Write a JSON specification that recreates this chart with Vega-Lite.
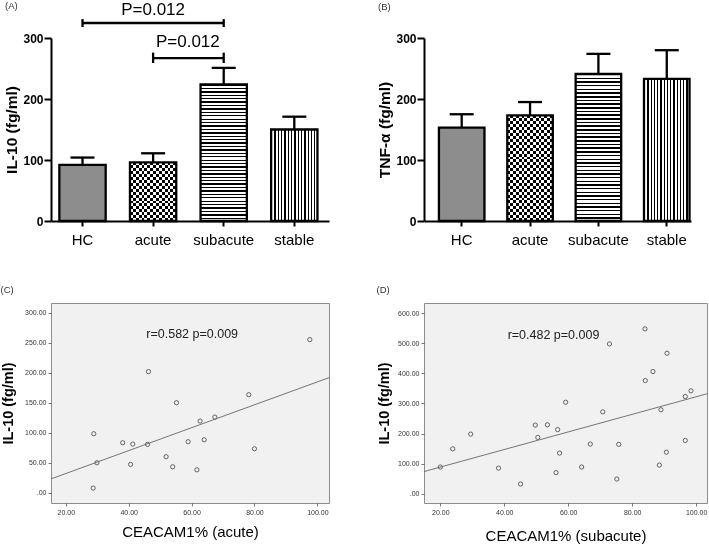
{
"$schema": "https://vega.github.io/schema/vega-lite/v6.json",
"background": "white",
"padding": {"left": 0, "top": 0, "right": 0, "bottom": 0},
"columns": 2,
"bounds": "flush",
"spacing": {"row": 82, "column": 95},
"config": {"font": "Liberation Sans"},
"datasets": {
 "il10": [
  {"g": "HC", "v": 92, "e": 104},
  {"g": "acute", "v": 96, "e": 111},
  {"g": "subacute", "v": 224, "e": 251},
  {"g": "stable", "v": 150, "e": 171}
 ],
 "tnf": [
  {"g": "HC", "v": 153, "e": 175},
  {"g": "acute", "v": 173, "e": 195},
  {"g": "subacute", "v": 241, "e": 274},
  {"g": "stable", "v": 233, "e": 280}
 ],
 "br": [
  {"id": 1, "f": "HC", "t": "subacute", "y": 324.6, "lo": 318, "hi": 331, "lab": "P=0.012", "at": "acute", "ly": 346},
  {"id": 2, "f": "acute", "t": "subacute", "y": 267, "lo": 259, "hi": 276, "lab": "P=0.012", "at": "acute", "ly": 293}
 ],
 "c": [
  {"x": 97.6, "y": 255}, {"x": 46.3, "y": 201.7}, {"x": 55.2, "y": 150}, {"x": 78.2, "y": 163.3},
  {"x": 67.4, "y": 126}, {"x": 62.7, "y": 119.4}, {"x": 28.9, "y": 98.3}, {"x": 38.1, "y": 83.3},
  {"x": 41.3, "y": 81.1}, {"x": 46.0, "y": 80.6}, {"x": 58.9, "y": 85}, {"x": 64.0, "y": 88.3},
  {"x": 80.0, "y": 73.3}, {"x": 51.9, "y": 60}, {"x": 29.9, "y": 50}, {"x": 40.6, "y": 47.2},
  {"x": 54.0, "y": 43.3}, {"x": 61.7, "y": 38.3}, {"x": 28.7, "y": 7.8}
 ],
 "d": [
  {"x": 84.0, "y": 548}, {"x": 72.9, "y": 498}, {"x": 90.9, "y": 467}, {"x": 86.5, "y": 406},
  {"x": 84.1, "y": 376}, {"x": 98.4, "y": 342}, {"x": 96.6, "y": 323}, {"x": 89.0, "y": 279},
  {"x": 59.2, "y": 304}, {"x": 70.8, "y": 272}, {"x": 49.7, "y": 228}, {"x": 53.5, "y": 229},
  {"x": 56.7, "y": 213}, {"x": 50.5, "y": 187}, {"x": 29.5, "y": 198}, {"x": 23.9, "y": 149},
  {"x": 20.0, "y": 88.6}, {"x": 38.2, "y": 85}, {"x": 45.1, "y": 32}, {"x": 56.2, "y": 70},
  {"x": 57.3, "y": 135}, {"x": 64.2, "y": 88.6}, {"x": 66.9, "y": 165}, {"x": 75.8, "y": 164},
  {"x": 75.2, "y": 48.7}, {"x": 88.5, "y": 95}, {"x": 90.7, "y": 138}, {"x": 96.6, "y": 177}
 ],
 "notes": [
  {"panel": "C", "lab": "r=0.582 p=0.009", "x": 60.2, "y": 264.5},
  {"panel": "D", "lab": "r=0.482 p=0.009", "x": 55.4, "y": 529}
 ]
},
"concat": [
 {
  "width": 278, "height": 183,
  "view": {"stroke": null},
  "title": {"text": "(A)", "anchor": "start", "frame": "bounds", "fontSize": 9.5, "fontWeight": "normal", "color": "#333", "offset": 0, "dy": 10},
  "data": {"name": "il10"},
  "layer": [
   {"transform": [{"filter": "datum.g == 'HC'"}],
    "mark": {"type": "bar", "fill": "#8d8d8d", "strokeWidth": 0},
    "encoding": {
     "x": {"field": "g", "type": "nominal", "title": null,
       "scale": {"domain": ["HC", "acute", "subacute", "stable"], "paddingInner": 0.344, "paddingOuter": 0.141, "align": 0.42},
       "axis": {"labelAngle": 0, "labelFontSize": 15, "labelColor": "#000", "labelPadding": 6, "tickSize": 5, "tickWidth": 2, "tickColor": "#000", "domainWidth": 2, "domainColor": "#000"}},
     "y": {"field": "v", "type": "quantitative", "title": "IL-10 (fg/ml)",
       "scale": {"domain": [0, 300], "nice": false},
       "axis": {"values": [0, 100, 200, 300], "grid": false, "domainWidth": 2, "domainColor": "#000", "tickWidth": 2, "tickColor": "#000", "tickSize": 7, "labelFontWeight": "bold", "labelFontSize": 12, "labelColor": "#000", "labelPadding": 1, "titleFontSize": 15.5, "titleFontWeight": "bold", "titleColor": "#000", "titlePadding": 3}}
    }},
   {"transform": [{"filter": "datum.g == 'acute'"}],
    "mark": {"type": "bar", "strokeWidth": 0, "fill": {"gradient": "linear", "x1": 0, "y1": 0, "x2": 1, "y2": 0, "stops": [
   {"offset": 0, "color": "#000"}, {"offset": 0.0625, "color": "#000"}, {"offset": 0.0625, "color": "#fff"}, {"offset": 0.125, "color": "#fff"},
   {"offset": 0.125, "color": "#000"}, {"offset": 0.1875, "color": "#000"}, {"offset": 0.1875, "color": "#fff"}, {"offset": 0.25, "color": "#fff"},
   {"offset": 0.25, "color": "#000"}, {"offset": 0.3125, "color": "#000"}, {"offset": 0.3125, "color": "#fff"}, {"offset": 0.375, "color": "#fff"},
   {"offset": 0.375, "color": "#000"}, {"offset": 0.4375, "color": "#000"}, {"offset": 0.4375, "color": "#fff"}, {"offset": 0.5, "color": "#fff"},
   {"offset": 0.5, "color": "#000"}, {"offset": 0.5625, "color": "#000"}, {"offset": 0.5625, "color": "#fff"}, {"offset": 0.625, "color": "#fff"},
   {"offset": 0.625, "color": "#000"}, {"offset": 0.6875, "color": "#000"}, {"offset": 0.6875, "color": "#fff"}, {"offset": 0.75, "color": "#fff"},
   {"offset": 0.75, "color": "#000"}, {"offset": 0.8125, "color": "#000"}, {"offset": 0.8125, "color": "#fff"}, {"offset": 0.875, "color": "#fff"},
   {"offset": 0.875, "color": "#000"}, {"offset": 0.9375, "color": "#000"}, {"offset": 0.9375, "color": "#fff"}, {"offset": 1, "color": "#fff"}]}},
    "encoding": {"x": {"field": "g", "type": "nominal", "title": null}, "y": {"field": "v", "type": "quantitative", "title": "IL-10 (fg/ml)"}}},
   {"transform": [{"filter": "datum.g == 'acute'"}],
    "mark": {"type": "bar", "blend": "difference", "strokeWidth": 0, "fill": {"gradient": "linear", "x1": 0, "y1": 0, "x2": 0, "y2": 1, "stops": [
   {"offset": 0, "color": "#fff"}, {"offset": 0.05, "color": "#fff"}, {"offset": 0.05, "color": "#000"}, {"offset": 0.1, "color": "#000"},
   {"offset": 0.1, "color": "#fff"}, {"offset": 0.15, "color": "#fff"}, {"offset": 0.15, "color": "#000"}, {"offset": 0.2, "color": "#000"},
   {"offset": 0.2, "color": "#fff"}, {"offset": 0.25, "color": "#fff"}, {"offset": 0.25, "color": "#000"}, {"offset": 0.3, "color": "#000"},
   {"offset": 0.3, "color": "#fff"}, {"offset": 0.35, "color": "#fff"}, {"offset": 0.35, "color": "#000"}, {"offset": 0.4, "color": "#000"},
   {"offset": 0.4, "color": "#fff"}, {"offset": 0.45, "color": "#fff"}, {"offset": 0.45, "color": "#000"}, {"offset": 0.5, "color": "#000"},
   {"offset": 0.5, "color": "#fff"}, {"offset": 0.55, "color": "#fff"}, {"offset": 0.55, "color": "#000"}, {"offset": 0.6, "color": "#000"},
   {"offset": 0.6, "color": "#fff"}, {"offset": 0.65, "color": "#fff"}, {"offset": 0.65, "color": "#000"}, {"offset": 0.7, "color": "#000"},
   {"offset": 0.7, "color": "#fff"}, {"offset": 0.75, "color": "#fff"}, {"offset": 0.75, "color": "#000"}, {"offset": 0.8, "color": "#000"},
   {"offset": 0.8, "color": "#fff"}, {"offset": 0.85, "color": "#fff"}, {"offset": 0.85, "color": "#000"}, {"offset": 0.9, "color": "#000"},
   {"offset": 0.9, "color": "#fff"}, {"offset": 0.95, "color": "#fff"}, {"offset": 0.95, "color": "#000"}, {"offset": 1, "color": "#000"}]}},
    "encoding": {"x": {"field": "g", "type": "nominal", "title": null}, "y": {"field": "v", "type": "quantitative", "title": "IL-10 (fg/ml)"}}},
   {"transform": [{"filter": "datum.g == 'subacute'"}],
    "mark": {"type": "bar", "strokeWidth": 0, "fill": {"gradient": "linear", "x1": 0, "y1": 0, "x2": 0, "y2": 1, "stops": [
   {"offset": 0, "color": "#000"}, {"offset": 0.01, "color": "#000"}, {"offset": 0.01, "color": "#fff"}, {"offset": 0.025, "color": "#fff"},
   {"offset": 0.025, "color": "#000"}, {"offset": 0.035, "color": "#000"}, {"offset": 0.035, "color": "#fff"}, {"offset": 0.05, "color": "#fff"},
   {"offset": 0.05, "color": "#000"}, {"offset": 0.06, "color": "#000"}, {"offset": 0.06, "color": "#fff"}, {"offset": 0.075, "color": "#fff"},
   {"offset": 0.075, "color": "#000"}, {"offset": 0.085, "color": "#000"}, {"offset": 0.085, "color": "#fff"}, {"offset": 0.1, "color": "#fff"},
   {"offset": 0.1, "color": "#000"}, {"offset": 0.11, "color": "#000"}, {"offset": 0.11, "color": "#fff"}, {"offset": 0.125, "color": "#fff"},
   {"offset": 0.125, "color": "#000"}, {"offset": 0.135, "color": "#000"}, {"offset": 0.135, "color": "#fff"}, {"offset": 0.15, "color": "#fff"},
   {"offset": 0.15, "color": "#000"}, {"offset": 0.16, "color": "#000"}, {"offset": 0.16, "color": "#fff"}, {"offset": 0.175, "color": "#fff"},
   {"offset": 0.175, "color": "#000"}, {"offset": 0.185, "color": "#000"}, {"offset": 0.185, "color": "#fff"}, {"offset": 0.2, "color": "#fff"},
   {"offset": 0.2, "color": "#000"}, {"offset": 0.21, "color": "#000"}, {"offset": 0.21, "color": "#fff"}, {"offset": 0.225, "color": "#fff"},
   {"offset": 0.225, "color": "#000"}, {"offset": 0.235, "color": "#000"}, {"offset": 0.235, "color": "#fff"}, {"offset": 0.25, "color": "#fff"},
   {"offset": 0.25, "color": "#000"}, {"offset": 0.26, "color": "#000"}, {"offset": 0.26, "color": "#fff"}, {"offset": 0.275, "color": "#fff"},
   {"offset": 0.275, "color": "#000"}, {"offset": 0.285, "color": "#000"}, {"offset": 0.285, "color": "#fff"}, {"offset": 0.3, "color": "#fff"},
   {"offset": 0.3, "color": "#000"}, {"offset": 0.31, "color": "#000"}, {"offset": 0.31, "color": "#fff"}, {"offset": 0.325, "color": "#fff"},
   {"offset": 0.325, "color": "#000"}, {"offset": 0.335, "color": "#000"}, {"offset": 0.335, "color": "#fff"}, {"offset": 0.35, "color": "#fff"},
   {"offset": 0.35, "color": "#000"}, {"offset": 0.36, "color": "#000"}, {"offset": 0.36, "color": "#fff"}, {"offset": 0.375, "color": "#fff"},
   {"offset": 0.375, "color": "#000"}, {"offset": 0.385, "color": "#000"}, {"offset": 0.385, "color": "#fff"}, {"offset": 0.4, "color": "#fff"},
   {"offset": 0.4, "color": "#000"}, {"offset": 0.41, "color": "#000"}, {"offset": 0.41, "color": "#fff"}, {"offset": 0.425, "color": "#fff"},
   {"offset": 0.425, "color": "#000"}, {"offset": 0.435, "color": "#000"}, {"offset": 0.435, "color": "#fff"}, {"offset": 0.45, "color": "#fff"},
   {"offset": 0.45, "color": "#000"}, {"offset": 0.46, "color": "#000"}, {"offset": 0.46, "color": "#fff"}, {"offset": 0.475, "color": "#fff"},
   {"offset": 0.475, "color": "#000"}, {"offset": 0.485, "color": "#000"}, {"offset": 0.485, "color": "#fff"}, {"offset": 0.5, "color": "#fff"},
   {"offset": 0.5, "color": "#000"}, {"offset": 0.51, "color": "#000"}, {"offset": 0.51, "color": "#fff"}, {"offset": 0.525, "color": "#fff"},
   {"offset": 0.525, "color": "#000"}, {"offset": 0.535, "color": "#000"}, {"offset": 0.535, "color": "#fff"}, {"offset": 0.55, "color": "#fff"},
   {"offset": 0.55, "color": "#000"}, {"offset": 0.56, "color": "#000"}, {"offset": 0.56, "color": "#fff"}, {"offset": 0.575, "color": "#fff"},
   {"offset": 0.575, "color": "#000"}, {"offset": 0.585, "color": "#000"}, {"offset": 0.585, "color": "#fff"}, {"offset": 0.6, "color": "#fff"},
   {"offset": 0.6, "color": "#000"}, {"offset": 0.61, "color": "#000"}, {"offset": 0.61, "color": "#fff"}, {"offset": 0.625, "color": "#fff"},
   {"offset": 0.625, "color": "#000"}, {"offset": 0.635, "color": "#000"}, {"offset": 0.635, "color": "#fff"}, {"offset": 0.65, "color": "#fff"},
   {"offset": 0.65, "color": "#000"}, {"offset": 0.66, "color": "#000"}, {"offset": 0.66, "color": "#fff"}, {"offset": 0.675, "color": "#fff"},
   {"offset": 0.675, "color": "#000"}, {"offset": 0.685, "color": "#000"}, {"offset": 0.685, "color": "#fff"}, {"offset": 0.7, "color": "#fff"},
   {"offset": 0.7, "color": "#000"}, {"offset": 0.71, "color": "#000"}, {"offset": 0.71, "color": "#fff"}, {"offset": 0.725, "color": "#fff"},
   {"offset": 0.725, "color": "#000"}, {"offset": 0.735, "color": "#000"}, {"offset": 0.735, "color": "#fff"}, {"offset": 0.75, "color": "#fff"},
   {"offset": 0.75, "color": "#000"}, {"offset": 0.76, "color": "#000"}, {"offset": 0.76, "color": "#fff"}, {"offset": 0.775, "color": "#fff"},
   {"offset": 0.775, "color": "#000"}, {"offset": 0.785, "color": "#000"}, {"offset": 0.785, "color": "#fff"}, {"offset": 0.8, "color": "#fff"},
   {"offset": 0.8, "color": "#000"}, {"offset": 0.81, "color": "#000"}, {"offset": 0.81, "color": "#fff"}, {"offset": 0.825, "color": "#fff"},
   {"offset": 0.825, "color": "#000"}, {"offset": 0.835, "color": "#000"}, {"offset": 0.835, "color": "#fff"}, {"offset": 0.85, "color": "#fff"},
   {"offset": 0.85, "color": "#000"}, {"offset": 0.86, "color": "#000"}, {"offset": 0.86, "color": "#fff"}, {"offset": 0.875, "color": "#fff"},
   {"offset": 0.875, "color": "#000"}, {"offset": 0.885, "color": "#000"}, {"offset": 0.885, "color": "#fff"}, {"offset": 0.9, "color": "#fff"},
   {"offset": 0.9, "color": "#000"}, {"offset": 0.91, "color": "#000"}, {"offset": 0.91, "color": "#fff"}, {"offset": 0.925, "color": "#fff"},
   {"offset": 0.925, "color": "#000"}, {"offset": 0.935, "color": "#000"}, {"offset": 0.935, "color": "#fff"}, {"offset": 0.95, "color": "#fff"},
   {"offset": 0.95, "color": "#000"}, {"offset": 0.96, "color": "#000"}, {"offset": 0.96, "color": "#fff"}, {"offset": 0.975, "color": "#fff"},
   {"offset": 0.975, "color": "#000"}, {"offset": 0.985, "color": "#000"}, {"offset": 0.985, "color": "#fff"}, {"offset": 1, "color": "#fff"}]}},
    "encoding": {"x": {"field": "g", "type": "nominal", "title": null}, "y": {"field": "v", "type": "quantitative", "title": "IL-10 (fg/ml)"}}},
   {"transform": [{"filter": "datum.g == 'stable'"}],
    "mark": {"type": "bar", "strokeWidth": 0, "fill": {"gradient": "linear", "x1": 0, "y1": 0, "x2": 1, "y2": 0, "stops": [
   {"offset": 0, "color": "#000"}, {"offset": 0.028571, "color": "#000"}, {"offset": 0.028571, "color": "#fff"}, {"offset": 0.071429, "color": "#fff"},
   {"offset": 0.071429, "color": "#000"}, {"offset": 0.1, "color": "#000"}, {"offset": 0.1, "color": "#fff"}, {"offset": 0.142857, "color": "#fff"},
   {"offset": 0.142857, "color": "#000"}, {"offset": 0.171429, "color": "#000"}, {"offset": 0.171429, "color": "#fff"}, {"offset": 0.214286, "color": "#fff"},
   {"offset": 0.214286, "color": "#000"}, {"offset": 0.242857, "color": "#000"}, {"offset": 0.242857, "color": "#fff"}, {"offset": 0.285714, "color": "#fff"},
   {"offset": 0.285714, "color": "#000"}, {"offset": 0.314286, "color": "#000"}, {"offset": 0.314286, "color": "#fff"}, {"offset": 0.357143, "color": "#fff"},
   {"offset": 0.357143, "color": "#000"}, {"offset": 0.385714, "color": "#000"}, {"offset": 0.385714, "color": "#fff"}, {"offset": 0.428571, "color": "#fff"},
   {"offset": 0.428571, "color": "#000"}, {"offset": 0.457143, "color": "#000"}, {"offset": 0.457143, "color": "#fff"}, {"offset": 0.5, "color": "#fff"},
   {"offset": 0.5, "color": "#000"}, {"offset": 0.528571, "color": "#000"}, {"offset": 0.528571, "color": "#fff"}, {"offset": 0.571429, "color": "#fff"},
   {"offset": 0.571429, "color": "#000"}, {"offset": 0.6, "color": "#000"}, {"offset": 0.6, "color": "#fff"}, {"offset": 0.642857, "color": "#fff"},
   {"offset": 0.642857, "color": "#000"}, {"offset": 0.671429, "color": "#000"}, {"offset": 0.671429, "color": "#fff"}, {"offset": 0.714286, "color": "#fff"},
   {"offset": 0.714286, "color": "#000"}, {"offset": 0.742857, "color": "#000"}, {"offset": 0.742857, "color": "#fff"}, {"offset": 0.785714, "color": "#fff"},
   {"offset": 0.785714, "color": "#000"}, {"offset": 0.814286, "color": "#000"}, {"offset": 0.814286, "color": "#fff"}, {"offset": 0.857143, "color": "#fff"},
   {"offset": 0.857143, "color": "#000"}, {"offset": 0.885714, "color": "#000"}, {"offset": 0.885714, "color": "#fff"}, {"offset": 0.928571, "color": "#fff"},
   {"offset": 0.928571, "color": "#000"}, {"offset": 0.957143, "color": "#000"}, {"offset": 0.957143, "color": "#fff"}, {"offset": 1, "color": "#fff"}]}},
    "encoding": {"x": {"field": "g", "type": "nominal", "title": null}, "y": {"field": "v", "type": "quantitative", "title": "IL-10 (fg/ml)"}}},
   {"mark": {"type": "rule", "color": "#000", "strokeWidth": 2.3},
    "encoding": {"x": {"field": "g", "type": "nominal", "title": null}, "y": {"field": "v", "type": "quantitative", "title": "IL-10 (fg/ml)"}, "y2": {"field": "e"}}},
   {"mark": {"type": "tick", "color": "#000", "opacity": 1, "size": 24, "thickness": 2.3},
    "encoding": {"x": {"field": "g", "type": "nominal", "title": null}, "y": {"field": "e", "type": "quantitative", "title": "IL-10 (fg/ml)"}}},
   {"mark": {"type": "bar", "fillOpacity": 0, "stroke": "#000", "strokeWidth": 2.3},
    "encoding": {"x": {"field": "g", "type": "nominal", "title": null}, "y": {"field": "v", "type": "quantitative", "title": "IL-10 (fg/ml)"}}},
   {"data": {"name": "br"},
    "mark": {"type": "rule", "color": "#000", "strokeWidth": 2.3},
    "encoding": {"x": {"field": "f", "type": "nominal", "title": null}, "x2": {"field": "t"}, "y": {"field": "y", "type": "quantitative", "title": "IL-10 (fg/ml)"}}},
   {"data": {"name": "br"},
    "mark": {"type": "rule", "color": "#000", "strokeWidth": 2.3},
    "encoding": {"x": {"field": "f", "type": "nominal", "title": null}, "y": {"field": "lo", "type": "quantitative", "title": "IL-10 (fg/ml)"}, "y2": {"field": "hi"}}},
   {"data": {"name": "br"},
    "mark": {"type": "rule", "color": "#000", "strokeWidth": 2.3},
    "encoding": {"x": {"field": "t", "type": "nominal", "title": null}, "y": {"field": "lo", "type": "quantitative", "title": "IL-10 (fg/ml)"}, "y2": {"field": "hi"}}},
   {"data": {"name": "br"}, "transform": [{"filter": "datum.id == 1"}],
    "mark": {"type": "text", "fontSize": 17, "baseline": "middle", "align": "center", "color": "#000"},
    "encoding": {"x": {"field": "at", "type": "nominal", "title": null, "bandPosition": 0.5}, "y": {"field": "ly", "type": "quantitative", "title": "IL-10 (fg/ml)"}, "text": {"field": "lab"}}},
   {"data": {"name": "br"}, "transform": [{"filter": "datum.id == 2"}],
    "mark": {"type": "text", "fontSize": 17, "baseline": "middle", "align": "center", "color": "#000"},
    "encoding": {"x": {"field": "at", "type": "nominal", "title": null, "bandPosition": 1.25}, "y": {"field": "ly", "type": "quantitative", "title": "IL-10 (fg/ml)"}, "text": {"field": "lab"}}}
  ]
 },
 {
  "width": 267, "height": 183,
  "view": {"stroke": null},
  "title": {"text": "(B)", "anchor": "start", "frame": "bounds", "fontSize": 9.5, "fontWeight": "normal", "color": "#333", "offset": 21},
  "data": {"name": "tnf"},
  "layer": [
   {"transform": [{"filter": "datum.g == 'HC'"}],
    "mark": {"type": "bar", "fill": "#8d8d8d", "strokeWidth": 0},
    "encoding": {
     "x": {"field": "g", "type": "nominal", "title": null,
       "scale": {"domain": ["HC", "acute", "subacute", "stable"], "paddingInner": 0.334, "paddingOuter": 0.12, "align": 0.91},
       "axis": {"labelAngle": 0, "labelFontSize": 15, "labelColor": "#000", "labelPadding": 6, "tickSize": 5, "tickWidth": 2, "tickColor": "#000", "domainWidth": 2, "domainColor": "#000"}},
     "y": {"field": "v", "type": "quantitative", "title": "TNF-α (fg/ml)",
       "scale": {"domain": [0, 300], "nice": false},
       "axis": {"values": [0, 100, 200, 300], "grid": false, "domainWidth": 2, "domainColor": "#000", "tickWidth": 2, "tickColor": "#000", "tickSize": 7, "labelFontWeight": "bold", "labelFontSize": 12, "labelColor": "#000", "labelPadding": 1, "titleFontSize": 15.5, "titleFontWeight": "bold", "titleColor": "#000", "titlePadding": 3}}
    }},
   {"transform": [{"filter": "datum.g == 'acute'"}],
    "mark": {"type": "bar", "strokeWidth": 0, "fill": {"gradient": "linear", "x1": 0, "y1": 0, "x2": 1, "y2": 0, "stops": [
   {"offset": 0, "color": "#000"}, {"offset": 0.0625, "color": "#000"}, {"offset": 0.0625, "color": "#fff"}, {"offset": 0.125, "color": "#fff"},
   {"offset": 0.125, "color": "#000"}, {"offset": 0.1875, "color": "#000"}, {"offset": 0.1875, "color": "#fff"}, {"offset": 0.25, "color": "#fff"},
   {"offset": 0.25, "color": "#000"}, {"offset": 0.3125, "color": "#000"}, {"offset": 0.3125, "color": "#fff"}, {"offset": 0.375, "color": "#fff"},
   {"offset": 0.375, "color": "#000"}, {"offset": 0.4375, "color": "#000"}, {"offset": 0.4375, "color": "#fff"}, {"offset": 0.5, "color": "#fff"},
   {"offset": 0.5, "color": "#000"}, {"offset": 0.5625, "color": "#000"}, {"offset": 0.5625, "color": "#fff"}, {"offset": 0.625, "color": "#fff"},
   {"offset": 0.625, "color": "#000"}, {"offset": 0.6875, "color": "#000"}, {"offset": 0.6875, "color": "#fff"}, {"offset": 0.75, "color": "#fff"},
   {"offset": 0.75, "color": "#000"}, {"offset": 0.8125, "color": "#000"}, {"offset": 0.8125, "color": "#fff"}, {"offset": 0.875, "color": "#fff"},
   {"offset": 0.875, "color": "#000"}, {"offset": 0.9375, "color": "#000"}, {"offset": 0.9375, "color": "#fff"}, {"offset": 1, "color": "#fff"}]}},
    "encoding": {"x": {"field": "g", "type": "nominal", "title": null}, "y": {"field": "v", "type": "quantitative", "title": "TNF-α (fg/ml)"}}},
   {"transform": [{"filter": "datum.g == 'acute'"}],
    "mark": {"type": "bar", "blend": "difference", "strokeWidth": 0, "fill": {"gradient": "linear", "x1": 0, "y1": 0, "x2": 0, "y2": 1, "stops": [
   {"offset": 0, "color": "#fff"}, {"offset": 0.027778, "color": "#fff"}, {"offset": 0.027778, "color": "#000"}, {"offset": 0.055556, "color": "#000"},
   {"offset": 0.055556, "color": "#fff"}, {"offset": 0.083333, "color": "#fff"}, {"offset": 0.083333, "color": "#000"}, {"offset": 0.111111, "color": "#000"},
   {"offset": 0.111111, "color": "#fff"}, {"offset": 0.138889, "color": "#fff"}, {"offset": 0.138889, "color": "#000"}, {"offset": 0.166667, "color": "#000"},
   {"offset": 0.166667, "color": "#fff"}, {"offset": 0.194444, "color": "#fff"}, {"offset": 0.194444, "color": "#000"}, {"offset": 0.222222, "color": "#000"},
   {"offset": 0.222222, "color": "#fff"}, {"offset": 0.25, "color": "#fff"}, {"offset": 0.25, "color": "#000"}, {"offset": 0.277778, "color": "#000"},
   {"offset": 0.277778, "color": "#fff"}, {"offset": 0.305556, "color": "#fff"}, {"offset": 0.305556, "color": "#000"}, {"offset": 0.333333, "color": "#000"},
   {"offset": 0.333333, "color": "#fff"}, {"offset": 0.361111, "color": "#fff"}, {"offset": 0.361111, "color": "#000"}, {"offset": 0.388889, "color": "#000"},
   {"offset": 0.388889, "color": "#fff"}, {"offset": 0.416667, "color": "#fff"}, {"offset": 0.416667, "color": "#000"}, {"offset": 0.444444, "color": "#000"},
   {"offset": 0.444444, "color": "#fff"}, {"offset": 0.472222, "color": "#fff"}, {"offset": 0.472222, "color": "#000"}, {"offset": 0.5, "color": "#000"},
   {"offset": 0.5, "color": "#fff"}, {"offset": 0.527778, "color": "#fff"}, {"offset": 0.527778, "color": "#000"}, {"offset": 0.555556, "color": "#000"},
   {"offset": 0.555556, "color": "#fff"}, {"offset": 0.583333, "color": "#fff"}, {"offset": 0.583333, "color": "#000"}, {"offset": 0.611111, "color": "#000"},
   {"offset": 0.611111, "color": "#fff"}, {"offset": 0.638889, "color": "#fff"}, {"offset": 0.638889, "color": "#000"}, {"offset": 0.666667, "color": "#000"},
   {"offset": 0.666667, "color": "#fff"}, {"offset": 0.694444, "color": "#fff"}, {"offset": 0.694444, "color": "#000"}, {"offset": 0.722222, "color": "#000"},
   {"offset": 0.722222, "color": "#fff"}, {"offset": 0.75, "color": "#fff"}, {"offset": 0.75, "color": "#000"}, {"offset": 0.777778, "color": "#000"},
   {"offset": 0.777778, "color": "#fff"}, {"offset": 0.805556, "color": "#fff"}, {"offset": 0.805556, "color": "#000"}, {"offset": 0.833333, "color": "#000"},
   {"offset": 0.833333, "color": "#fff"}, {"offset": 0.861111, "color": "#fff"}, {"offset": 0.861111, "color": "#000"}, {"offset": 0.888889, "color": "#000"},
   {"offset": 0.888889, "color": "#fff"}, {"offset": 0.916667, "color": "#fff"}, {"offset": 0.916667, "color": "#000"}, {"offset": 0.944444, "color": "#000"},
   {"offset": 0.944444, "color": "#fff"}, {"offset": 0.972222, "color": "#fff"}, {"offset": 0.972222, "color": "#000"}, {"offset": 1, "color": "#000"}]}},
    "encoding": {"x": {"field": "g", "type": "nominal", "title": null}, "y": {"field": "v", "type": "quantitative", "title": "TNF-α (fg/ml)"}}},
   {"transform": [{"filter": "datum.g == 'subacute'"}],
    "mark": {"type": "bar", "strokeWidth": 0, "fill": {"gradient": "linear", "x1": 0, "y1": 0, "x2": 0, "y2": 1, "stops": [
   {"offset": 0, "color": "#000"}, {"offset": 0.01, "color": "#000"}, {"offset": 0.01, "color": "#fff"}, {"offset": 0.025, "color": "#fff"},
   {"offset": 0.025, "color": "#000"}, {"offset": 0.035, "color": "#000"}, {"offset": 0.035, "color": "#fff"}, {"offset": 0.05, "color": "#fff"},
   {"offset": 0.05, "color": "#000"}, {"offset": 0.06, "color": "#000"}, {"offset": 0.06, "color": "#fff"}, {"offset": 0.075, "color": "#fff"},
   {"offset": 0.075, "color": "#000"}, {"offset": 0.085, "color": "#000"}, {"offset": 0.085, "color": "#fff"}, {"offset": 0.1, "color": "#fff"},
   {"offset": 0.1, "color": "#000"}, {"offset": 0.11, "color": "#000"}, {"offset": 0.11, "color": "#fff"}, {"offset": 0.125, "color": "#fff"},
   {"offset": 0.125, "color": "#000"}, {"offset": 0.135, "color": "#000"}, {"offset": 0.135, "color": "#fff"}, {"offset": 0.15, "color": "#fff"},
   {"offset": 0.15, "color": "#000"}, {"offset": 0.16, "color": "#000"}, {"offset": 0.16, "color": "#fff"}, {"offset": 0.175, "color": "#fff"},
   {"offset": 0.175, "color": "#000"}, {"offset": 0.185, "color": "#000"}, {"offset": 0.185, "color": "#fff"}, {"offset": 0.2, "color": "#fff"},
   {"offset": 0.2, "color": "#000"}, {"offset": 0.21, "color": "#000"}, {"offset": 0.21, "color": "#fff"}, {"offset": 0.225, "color": "#fff"},
   {"offset": 0.225, "color": "#000"}, {"offset": 0.235, "color": "#000"}, {"offset": 0.235, "color": "#fff"}, {"offset": 0.25, "color": "#fff"},
   {"offset": 0.25, "color": "#000"}, {"offset": 0.26, "color": "#000"}, {"offset": 0.26, "color": "#fff"}, {"offset": 0.275, "color": "#fff"},
   {"offset": 0.275, "color": "#000"}, {"offset": 0.285, "color": "#000"}, {"offset": 0.285, "color": "#fff"}, {"offset": 0.3, "color": "#fff"},
   {"offset": 0.3, "color": "#000"}, {"offset": 0.31, "color": "#000"}, {"offset": 0.31, "color": "#fff"}, {"offset": 0.325, "color": "#fff"},
   {"offset": 0.325, "color": "#000"}, {"offset": 0.335, "color": "#000"}, {"offset": 0.335, "color": "#fff"}, {"offset": 0.35, "color": "#fff"},
   {"offset": 0.35, "color": "#000"}, {"offset": 0.36, "color": "#000"}, {"offset": 0.36, "color": "#fff"}, {"offset": 0.375, "color": "#fff"},
   {"offset": 0.375, "color": "#000"}, {"offset": 0.385, "color": "#000"}, {"offset": 0.385, "color": "#fff"}, {"offset": 0.4, "color": "#fff"},
   {"offset": 0.4, "color": "#000"}, {"offset": 0.41, "color": "#000"}, {"offset": 0.41, "color": "#fff"}, {"offset": 0.425, "color": "#fff"},
   {"offset": 0.425, "color": "#000"}, {"offset": 0.435, "color": "#000"}, {"offset": 0.435, "color": "#fff"}, {"offset": 0.45, "color": "#fff"},
   {"offset": 0.45, "color": "#000"}, {"offset": 0.46, "color": "#000"}, {"offset": 0.46, "color": "#fff"}, {"offset": 0.475, "color": "#fff"},
   {"offset": 0.475, "color": "#000"}, {"offset": 0.485, "color": "#000"}, {"offset": 0.485, "color": "#fff"}, {"offset": 0.5, "color": "#fff"},
   {"offset": 0.5, "color": "#000"}, {"offset": 0.51, "color": "#000"}, {"offset": 0.51, "color": "#fff"}, {"offset": 0.525, "color": "#fff"},
   {"offset": 0.525, "color": "#000"}, {"offset": 0.535, "color": "#000"}, {"offset": 0.535, "color": "#fff"}, {"offset": 0.55, "color": "#fff"},
   {"offset": 0.55, "color": "#000"}, {"offset": 0.56, "color": "#000"}, {"offset": 0.56, "color": "#fff"}, {"offset": 0.575, "color": "#fff"},
   {"offset": 0.575, "color": "#000"}, {"offset": 0.585, "color": "#000"}, {"offset": 0.585, "color": "#fff"}, {"offset": 0.6, "color": "#fff"},
   {"offset": 0.6, "color": "#000"}, {"offset": 0.61, "color": "#000"}, {"offset": 0.61, "color": "#fff"}, {"offset": 0.625, "color": "#fff"},
   {"offset": 0.625, "color": "#000"}, {"offset": 0.635, "color": "#000"}, {"offset": 0.635, "color": "#fff"}, {"offset": 0.65, "color": "#fff"},
   {"offset": 0.65, "color": "#000"}, {"offset": 0.66, "color": "#000"}, {"offset": 0.66, "color": "#fff"}, {"offset": 0.675, "color": "#fff"},
   {"offset": 0.675, "color": "#000"}, {"offset": 0.685, "color": "#000"}, {"offset": 0.685, "color": "#fff"}, {"offset": 0.7, "color": "#fff"},
   {"offset": 0.7, "color": "#000"}, {"offset": 0.71, "color": "#000"}, {"offset": 0.71, "color": "#fff"}, {"offset": 0.725, "color": "#fff"},
   {"offset": 0.725, "color": "#000"}, {"offset": 0.735, "color": "#000"}, {"offset": 0.735, "color": "#fff"}, {"offset": 0.75, "color": "#fff"},
   {"offset": 0.75, "color": "#000"}, {"offset": 0.76, "color": "#000"}, {"offset": 0.76, "color": "#fff"}, {"offset": 0.775, "color": "#fff"},
   {"offset": 0.775, "color": "#000"}, {"offset": 0.785, "color": "#000"}, {"offset": 0.785, "color": "#fff"}, {"offset": 0.8, "color": "#fff"},
   {"offset": 0.8, "color": "#000"}, {"offset": 0.81, "color": "#000"}, {"offset": 0.81, "color": "#fff"}, {"offset": 0.825, "color": "#fff"},
   {"offset": 0.825, "color": "#000"}, {"offset": 0.835, "color": "#000"}, {"offset": 0.835, "color": "#fff"}, {"offset": 0.85, "color": "#fff"},
   {"offset": 0.85, "color": "#000"}, {"offset": 0.86, "color": "#000"}, {"offset": 0.86, "color": "#fff"}, {"offset": 0.875, "color": "#fff"},
   {"offset": 0.875, "color": "#000"}, {"offset": 0.885, "color": "#000"}, {"offset": 0.885, "color": "#fff"}, {"offset": 0.9, "color": "#fff"},
   {"offset": 0.9, "color": "#000"}, {"offset": 0.91, "color": "#000"}, {"offset": 0.91, "color": "#fff"}, {"offset": 0.925, "color": "#fff"},
   {"offset": 0.925, "color": "#000"}, {"offset": 0.935, "color": "#000"}, {"offset": 0.935, "color": "#fff"}, {"offset": 0.95, "color": "#fff"},
   {"offset": 0.95, "color": "#000"}, {"offset": 0.96, "color": "#000"}, {"offset": 0.96, "color": "#fff"}, {"offset": 0.975, "color": "#fff"},
   {"offset": 0.975, "color": "#000"}, {"offset": 0.985, "color": "#000"}, {"offset": 0.985, "color": "#fff"}, {"offset": 1, "color": "#fff"}]}},
    "encoding": {"x": {"field": "g", "type": "nominal", "title": null}, "y": {"field": "v", "type": "quantitative", "title": "TNF-α (fg/ml)"}}},
   {"transform": [{"filter": "datum.g == 'stable'"}],
    "mark": {"type": "bar", "strokeWidth": 0, "fill": {"gradient": "linear", "x1": 0, "y1": 0, "x2": 1, "y2": 0, "stops": [
   {"offset": 0, "color": "#000"}, {"offset": 0.028571, "color": "#000"}, {"offset": 0.028571, "color": "#fff"}, {"offset": 0.071429, "color": "#fff"},
   {"offset": 0.071429, "color": "#000"}, {"offset": 0.1, "color": "#000"}, {"offset": 0.1, "color": "#fff"}, {"offset": 0.142857, "color": "#fff"},
   {"offset": 0.142857, "color": "#000"}, {"offset": 0.171429, "color": "#000"}, {"offset": 0.171429, "color": "#fff"}, {"offset": 0.214286, "color": "#fff"},
   {"offset": 0.214286, "color": "#000"}, {"offset": 0.242857, "color": "#000"}, {"offset": 0.242857, "color": "#fff"}, {"offset": 0.285714, "color": "#fff"},
   {"offset": 0.285714, "color": "#000"}, {"offset": 0.314286, "color": "#000"}, {"offset": 0.314286, "color": "#fff"}, {"offset": 0.357143, "color": "#fff"},
   {"offset": 0.357143, "color": "#000"}, {"offset": 0.385714, "color": "#000"}, {"offset": 0.385714, "color": "#fff"}, {"offset": 0.428571, "color": "#fff"},
   {"offset": 0.428571, "color": "#000"}, {"offset": 0.457143, "color": "#000"}, {"offset": 0.457143, "color": "#fff"}, {"offset": 0.5, "color": "#fff"},
   {"offset": 0.5, "color": "#000"}, {"offset": 0.528571, "color": "#000"}, {"offset": 0.528571, "color": "#fff"}, {"offset": 0.571429, "color": "#fff"},
   {"offset": 0.571429, "color": "#000"}, {"offset": 0.6, "color": "#000"}, {"offset": 0.6, "color": "#fff"}, {"offset": 0.642857, "color": "#fff"},
   {"offset": 0.642857, "color": "#000"}, {"offset": 0.671429, "color": "#000"}, {"offset": 0.671429, "color": "#fff"}, {"offset": 0.714286, "color": "#fff"},
   {"offset": 0.714286, "color": "#000"}, {"offset": 0.742857, "color": "#000"}, {"offset": 0.742857, "color": "#fff"}, {"offset": 0.785714, "color": "#fff"},
   {"offset": 0.785714, "color": "#000"}, {"offset": 0.814286, "color": "#000"}, {"offset": 0.814286, "color": "#fff"}, {"offset": 0.857143, "color": "#fff"},
   {"offset": 0.857143, "color": "#000"}, {"offset": 0.885714, "color": "#000"}, {"offset": 0.885714, "color": "#fff"}, {"offset": 0.928571, "color": "#fff"},
   {"offset": 0.928571, "color": "#000"}, {"offset": 0.957143, "color": "#000"}, {"offset": 0.957143, "color": "#fff"}, {"offset": 1, "color": "#fff"}]}},
    "encoding": {"x": {"field": "g", "type": "nominal", "title": null}, "y": {"field": "v", "type": "quantitative", "title": "TNF-α (fg/ml)"}}},
   {"mark": {"type": "rule", "color": "#000", "strokeWidth": 2.3},
    "encoding": {"x": {"field": "g", "type": "nominal", "title": null}, "y": {"field": "v", "type": "quantitative", "title": "TNF-α (fg/ml)"}, "y2": {"field": "e"}}},
   {"mark": {"type": "tick", "color": "#000", "opacity": 1, "size": 24, "thickness": 2.3},
    "encoding": {"x": {"field": "g", "type": "nominal", "title": null}, "y": {"field": "e", "type": "quantitative", "title": "TNF-α (fg/ml)"}}},
   {"mark": {"type": "bar", "fillOpacity": 0, "stroke": "#000", "strokeWidth": 2.3},
    "encoding": {"x": {"field": "g", "type": "nominal", "title": null}, "y": {"field": "v", "type": "quantitative", "title": "TNF-α (fg/ml)"}}}
  ]
 },
 {
  "width": 278, "height": 200,
  "view": {"fill": "#f1f1f1", "stroke": "#8c8c8c", "strokeWidth": 1},
  "title": {"text": "(C)", "anchor": "start", "frame": "bounds", "fontSize": 9.5, "fontWeight": "normal", "color": "#333", "offset": 9},
  "data": {"name": "c"},
  "encoding": {
   "x": {"field": "x", "type": "quantitative", "title": "CEACAM1% (acute)",
     "scale": {"domain": [15.3, 103.7], "nice": false, "zero": false},
     "axis": {"values": [20, 40, 60, 80, 100], "format": ".2f", "labelOverlap": false, "grid": false, "domain": false, "tickSize": 3, "tickColor": "#555", "tickWidth": 0.8, "labelFontSize": 7, "labelColor": "#333", "labelPadding": 2, "titleFontSize": 15, "titleFontWeight": "normal", "titleColor": "#000", "titlePadding": 9}},
   "y": {"field": "y", "type": "quantitative", "title": "IL-10 (fg/ml)",
     "scale": {"domain": [-17, 316], "nice": false, "zero": false},
     "axis": {"values": [0, 50, 100, 150, 200, 250, 300], "labelExpr": "datum.value == 0 ? '.00' : format(datum.value, '.2f')", "labelOverlap": false, "grid": false, "domain": false, "tickSize": 3, "tickColor": "#555", "tickWidth": 0.8, "labelFontSize": 7, "labelColor": "#333", "labelPadding": 2, "titleFontSize": 14.5, "titleFontWeight": "bold", "titleColor": "#000", "titlePadding": 9}}
  },
  "layer": [
   {"mark": {"type": "point", "shape": "circle", "filled": false, "size": 18, "strokeWidth": 0.9, "color": "#555", "opacity": 1}},
   {"transform": [{"regression": "y", "on": "x", "extent": [15.3, 103.7]}],
    "mark": {"type": "line", "color": "#666", "strokeWidth": 0.9}},
   {"data": {"name": "notes"}, "transform": [{"filter": "datum.panel == 'C'"}],
    "mark": {"type": "text", "fontSize": 12.5, "color": "#222", "align": "center", "baseline": "middle"},
    "encoding": {"text": {"field": "lab"}}}
  ]
 },
 {
  "width": 283, "height": 200,
  "view": {"fill": "#f1f1f1", "stroke": "#8c8c8c", "strokeWidth": 1},
  "title": {"text": "(D)", "anchor": "start", "frame": "bounds", "fontSize": 9.5, "fontWeight": "normal", "color": "#333", "offset": 9},
  "data": {"name": "d"},
  "encoding": {
   "x": {"field": "x", "type": "quantitative", "title": "CEACAM1% (subacute)",
     "scale": {"domain": [14.9, 103.4], "nice": false, "zero": false},
     "axis": {"values": [20, 40, 60, 80, 100], "format": ".2f", "labelOverlap": false, "grid": false, "domain": false, "tickSize": 3, "tickColor": "#555", "tickWidth": 0.8, "labelFontSize": 7, "labelColor": "#333", "labelPadding": 2, "titleFontSize": 15, "titleFontWeight": "normal", "titleColor": "#000", "titlePadding": 13}},
   "y": {"field": "y", "type": "quantitative", "title": "IL-10 (fg/ml)",
     "scale": {"domain": [-31, 634], "nice": false, "zero": false},
     "axis": {"values": [0, 100, 200, 300, 400, 500, 600], "labelExpr": "datum.value == 0 ? '.00' : format(datum.value, '.2f')", "labelOverlap": false, "grid": false, "domain": false, "tickSize": 3, "tickColor": "#555", "tickWidth": 0.8, "labelFontSize": 7, "labelColor": "#333", "labelPadding": 2, "titleFontSize": 14.5, "titleFontWeight": "bold", "titleColor": "#000", "titlePadding": 6}}
  },
  "layer": [
   {"mark": {"type": "point", "shape": "circle", "filled": false, "size": 18, "strokeWidth": 0.9, "color": "#555", "opacity": 1}},
   {"transform": [{"regression": "y", "on": "x", "extent": [14.9, 103.4]}],
    "mark": {"type": "line", "color": "#666", "strokeWidth": 0.9}},
   {"data": {"name": "notes"}, "transform": [{"filter": "datum.panel == 'D'"}],
    "mark": {"type": "text", "fontSize": 12.5, "color": "#222", "align": "center", "baseline": "middle"},
    "encoding": {"text": {"field": "lab"}}}
  ]
 }
]
}
